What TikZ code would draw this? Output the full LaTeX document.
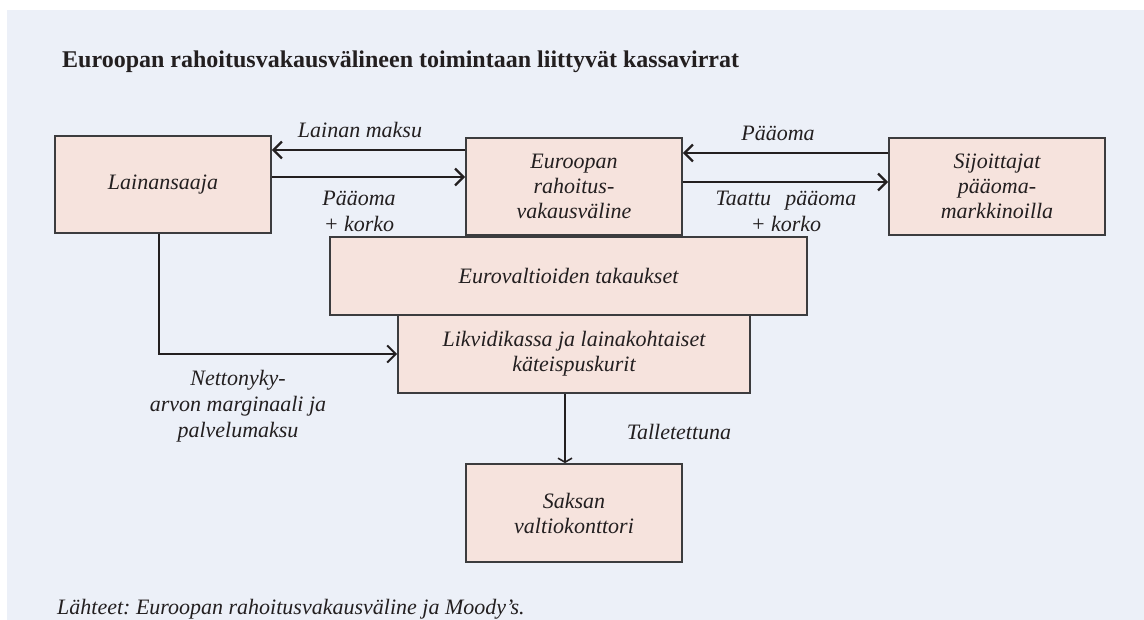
\documentclass[tikz,border=0pt]{standalone}
\usepackage{fontspec}
\setmainfont{Liberation Serif}
\usetikzlibrary{arrows.meta}
\definecolor{panel}{RGB}{236,240,248}
\definecolor{boxfill}{RGB}{246,227,221}
\definecolor{edge}{RGB}{60,60,62}
\definecolor{ink}{RGB}{35,31,32}
\frenchspacing
\begin{document}
\begin{tikzpicture}[x=1pt,y=-1pt,
  box/.style={draw=edge, fill=boxfill, line width=1.8pt, inner sep=0pt, align=center, text=ink, font=\fontsize{22}{25}\selectfont\itshape},
  lbl/.style={text=ink, font=\fontsize{22}{26}\selectfont\itshape, align=center, inner sep=0pt},
  flow/.style={draw=ink, line width=2.6pt, -{Straight Barb[length=8.5pt,width=17pt,line width=2.2pt]}},
  flowthin/.style={draw=ink, line width=2pt, -{Straight Barb[length=8.5pt,width=17pt,line width=2pt]}},
  flowdown/.style={draw=ink, line width=2.3pt, -{Straight Barb[length=4pt,width=14pt,line width=1.6pt]}},
]
\useasboundingbox (0,0) rectangle (1144,620);
\fill[white] (0,0) rectangle (1144,620);
\fill[panel] (7,10) rectangle (1144,620);

\node[anchor=base west, inner sep=0pt, text=ink, font=\fontsize{24}{28}\selectfont\bfseries] (title) at (62,68) {Euroopan rahoitusvakausvälineen toimintaan liittyvät kassavirrat};

\node[box, minimum width=216pt, minimum height=97pt] (L) at (163,184.5) {Lainansaaja};
\node[box, minimum width=216pt, minimum height=97pt] (E) at (574,186.5) {Euroopan\\rahoitus-\\vakausväline};
\node[box, minimum width=216pt, minimum height=97pt] (S) at (997,186.5) {Sijoittajat\\pääoma-\\markkinoilla};
\node[box, minimum width=477pt, minimum height=78pt] (G) at (568.5,276) {Eurovaltioiden takaukset};
\node[box, minimum width=352pt, minimum height=78pt] (K) at (574,354) {Likvidikassa ja lainakohtaiset\\käteispuskurit};
\node[box, minimum width=216pt, minimum height=98pt] (D) at (574,513) {Saksan\\valtiokonttori};

\draw[flow] ([yshift=36.5pt]E.west) -- ([yshift=34.5pt]L.east);
\draw[flow] ([yshift=7.5pt]L.east) -- ([yshift=9.5pt]E.west);
\draw[flow] ([yshift=33.5pt]S.west) -- ([yshift=33.5pt]E.east);
\draw[flow] ([yshift=4.5pt]E.east) -- ([yshift=4.5pt]S.west);
\draw[flowthin] ([xshift=-4pt]L.south) |- (K.west);
\draw[flowdown] ([xshift=-9pt]K.south) -- ([xshift=-9pt]D.north);

\node[lbl, anchor=base] (t1) at (360,138) {Lainan maksu};
\node[lbl] (t2) at (359,211) {Pääoma\\+ korko};
\node[lbl, anchor=base] (t3) at (778,141) {Pääoma};
\node[lbl] (t4) at (786,211.5) {Taattu\hspace{0.4em} pääoma\\+ korko};
\node[lbl] (t5) at (238,406) {Nettonyky-\\arvon marginaali ja\\palvelumaksu};
\node[lbl, anchor=base] (t6) at (679,439) {Talletettuna};

\node[anchor=base west, inner sep=0pt, text=ink, font=\fontsize{22}{26}\selectfont\itshape] (src) at (57,614) {Lähteet: Euroopan rahoitusvakausväline ja Moody’s.};
\end{tikzpicture}
\end{document}
